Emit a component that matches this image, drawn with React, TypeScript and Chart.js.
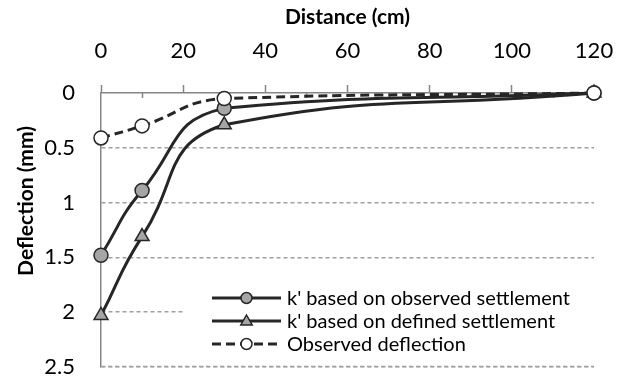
import React, { useEffect, useRef } from "react";
import { Chart, registerables } from "chart.js";

Chart.register(...registerables);

const distances = [0, 10, 30, 120];
const kObserved = [1.48, 0.89, 0.14, 0];
const kDefined = [2.03, 1.31, 0.29, 0];
const observedDeflection = [0.41, 0.3, 0.05, 0];

const seriesLabels = [
  "k' based on observed settlement",
  "k' based on defined settlement",
  "Observed deflection",
];

const xTickValues = [0, 20, 40, 60, 80, 100, 120];
const xMinorTickValues = [10, 30, 50, 70, 90, 110];
const yTickValues = [0, 0.5, 1, 1.5, 2, 2.5];
const yTickLabels = ["0", "0.5", "1", "1.5", "2", "2.5"];

const xTitle = "Distance (cm)";
const yTitle = "Deflection (mm)";

const FONT = "Lato, 'Open Sans', sans-serif";
const AXIS = "#868686";
const GRID = "#a0a0a0";
const LINE = "#262626";
const MARK = "#a5a5a5";

const toPts = (ys: number[]) => distances.map((x, i) => ({ x, y: ys[i] }));

const extrasPlugin = {
  id: "extras",
  beforeDatasetsDraw(chart: any) {
    const ctx = chart.ctx;
    const xs = chart.scales.x;
    const ys = chart.scales.y;
    const { top, left, right } = chart.chartArea;
    ctx.save();
    ctx.strokeStyle = AXIS;
    ctx.lineWidth = 1.5;
    xMinorTickValues.forEach((v) => {
      const px = Math.round(xs.getPixelForValue(v)) + 0.5;
      ctx.beginPath();
      ctx.moveTo(px, top);
      ctx.lineTo(px, top + 5);
      ctx.stroke();
    });
    // bottom dashed gridline
    const yb = ys.getPixelForValue(yTickValues[yTickValues.length - 1]) - 0.5;
    ctx.strokeStyle = GRID;
    ctx.setLineDash([4, 3]);
    ctx.beginPath();
    ctx.moveTo(left, yb);
    ctx.lineTo(right, yb);
    ctx.stroke();
    ctx.restore();
  },
  afterDraw(chart: any) {
    const ctx = chart.ctx;
    ctx.save();
    ctx.fillStyle = "#000";
    ctx.font = `bold 21px ${FONT}`;
    ctx.textAlign = "center";
    ctx.textBaseline = "middle";
    ctx.translate(26, 201);
    ctx.rotate(-Math.PI / 2);
    ctx.fillText(yTitle, 0, 0);
    ctx.restore();

    ctx.save();
    ctx.fillStyle = "#fff";
    ctx.fillRect(185, 284, 409, 74);
    const rows = [298, 321, 344];
    chart.data.datasets.forEach((ds: any, i: number) => {
      const y = rows[i];
      ctx.strokeStyle = LINE;
      ctx.lineWidth = 3;
      ctx.setLineDash(ds.borderDash || []);
      ctx.beginPath();
      ctx.moveTo(212, y);
      ctx.lineTo(281, y);
      ctx.stroke();
      ctx.setLineDash([]);
      ctx.fillStyle = ds.pointBackgroundColor;
      ctx.lineWidth = 1.5;
      ctx.beginPath();
      const cx = 246.5;
      if (ds.pointStyle === "triangle") {
        const r = 6;
        ctx.moveTo(cx, y - r);
        ctx.lineTo(cx + r * 0.95, y + r * 0.65);
        ctx.lineTo(cx - r * 0.95, y + r * 0.65);
        ctx.closePath();
      } else {
        ctx.arc(cx, y, 5.5, 0, Math.PI * 2);
      }
      ctx.fill();
      ctx.stroke();
      ctx.fillStyle = "#000";
      ctx.font = `20px ${FONT}`;
      ctx.textAlign = "left";
      ctx.textBaseline = "middle";
      ctx.fillText(ds.label, 287, y + 1);
    });
    ctx.restore();
  },
};

export default function App() {
  const ref = useRef<HTMLCanvasElement | null>(null);
  useEffect(() => {
    document.body.style.margin = "0";
    const canvas = ref.current;
    if (!canvas) return;
    const common = {
      borderColor: LINE,
      borderWidth: 3,
      pointBorderColor: LINE,
      pointBorderWidth: 1.5,
      tension: 0.5,
      showLine: true,
      clip: false as any,
    };
    const chart = new Chart(canvas, {
      type: "scatter",
      data: {
        datasets: [
          {
            ...common,
            label: seriesLabels[0],
            data: toPts(kObserved),
            pointStyle: "circle",
            pointRadius: 7,
            pointBackgroundColor: MARK,
            order: 3,
          },
          {
            ...common,
            label: seriesLabels[1],
            data: toPts(kDefined),
            pointStyle: "triangle",
            pointRadius: 8,
            pointBackgroundColor: MARK,
            order: 2,
          },
          {
            ...common,
            label: seriesLabels[2],
            data: toPts(observedDeflection),
            pointStyle: "circle",
            pointRadius: 7,
            pointBackgroundColor: "#ffffff",
            borderDash: [9, 5],
            order: 1,
          },
        ] as any,
      },
      options: {
        animation: false,
        responsive: false,
        devicePixelRatio: 1,
        layout: { autoPadding: false, padding: { left: 0, top: 0, right: 31, bottom: 12 } },
        plugins: { legend: { display: false }, tooltip: { enabled: false } },
        scales: {
          x: {
            type: "linear",
            position: "top",
            min: 0,
            max: 120,
            afterBuildTicks: (s: any) => {
              s.ticks = xTickValues.map((v) => ({ value: v }));
            },
            afterFit: (s: any) => {
              s.height = 93;
              s.paddingLeft = 0;
              s.paddingRight = 0;
            },
            grid: {
              display: true,
              drawOnChartArea: false,
              drawTicks: true,
              tickLength: 8,
              tickColor: AXIS,
              tickWidth: 1.5,
            },
            border: { display: true, color: AXIS, width: 1.5 },
            ticks: {
              color: "#000",
              font: { family: FONT, size: 22 },
              padding: 21,
              maxRotation: 0,
            },
            title: {
              display: true,
              text: xTitle,
              color: "#000",
              font: { family: FONT, size: 21, weight: "bold" },
              padding: { top: 5, bottom: 0 },
            },
          },
          y: {
            type: "linear",
            reverse: true,
            min: 0,
            max: 2.5,
            afterBuildTicks: (s: any) => {
              s.ticks = yTickValues.map((v) => ({ value: v }));
            },
            afterFit: (s: any) => {
              s.width = 101;
              s.paddingTop = 0;
              s.paddingBottom = 0;
            },
            grid: {
              display: true,
              drawTicks: false,
              color: (c: any) => (c.tick && c.tick.value === 0 ? "rgba(0,0,0,0)" : GRID),
              lineWidth: 1.5,
            },
            border: { display: true, color: AXIS, width: 1.5, dash: [4, 3] },
            ticks: {
              color: "#000",
              font: { family: FONT, size: 22 },
              padding: 26,
              callback: (_v: any, i: number) => yTickLabels[i],
            },
          },
        },
      } as any,
      plugins: [extrasPlugin],
    });
    return () => chart.destroy();
  }, []);
  return <canvas ref={ref} width={625} height={379} style={{ display: "block" }} />;
}
